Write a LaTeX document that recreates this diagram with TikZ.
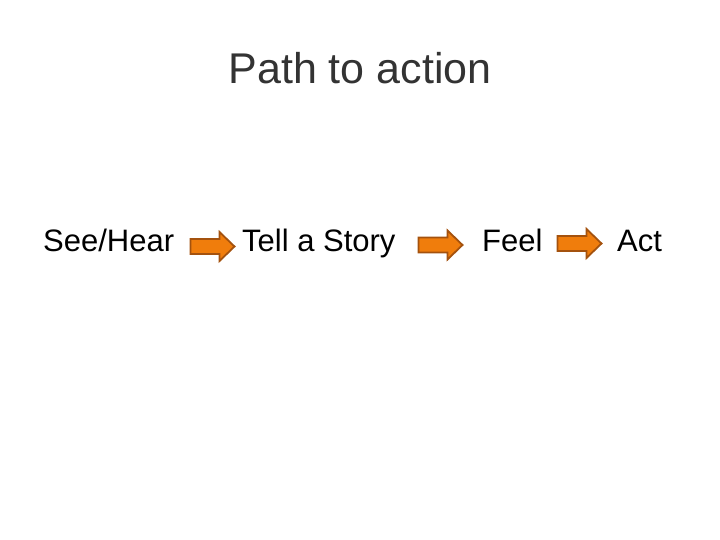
\documentclass[tikz,border=0pt]{standalone}
\usepackage{fontspec}
\setmainfont{Liberation Sans}
\definecolor{arrfill}{HTML}{F07D0C}
\definecolor{arrline}{HTML}{A4520E}
\definecolor{titlegray}{HTML}{333333}
\tikzset{
  word/.style={anchor=base west, inner sep=0pt, font=\fontsize{31}{34}\selectfont},
  orangearrow/.style={draw=arrline, fill=arrfill, line width=1.8pt, line join=miter}
}
\newcommand{\orangearrowat}[1]{%
  \draw[orangearrow] (#1) ++(-22,-7.5) -- ++(29,0) -- ++(0,-7) -- ++(15,14.5)
    -- ++(-15,14.5) -- ++(0,-7) -- ++(-29,0) -- cycle;}
\begin{document}
\begin{tikzpicture}[x=1pt,y=1pt]
\useasboundingbox (0,0) rectangle (720,540);
\node[anchor=base, inner sep=0pt, text=titlegray, font=\fontsize{43}{48}\selectfont] (title) at (360,456) {Path to action};
\node[word] (see) at (43,288) {See/Hear};
\node[word] (tell) at (242,288) {Tell a Story};
\node[word] (feel) at (482,288) {Feel};
\node[word] (act) at (617,288) {Act};
\coordinate (a1) at (212.5,293.5);
\coordinate (a2) at (440.5,295);
\coordinate (a3) at (579.5,296.5);
\orangearrowat{a1}
\orangearrowat{a2}
\orangearrowat{a3}
\end{tikzpicture}
\end{document}
